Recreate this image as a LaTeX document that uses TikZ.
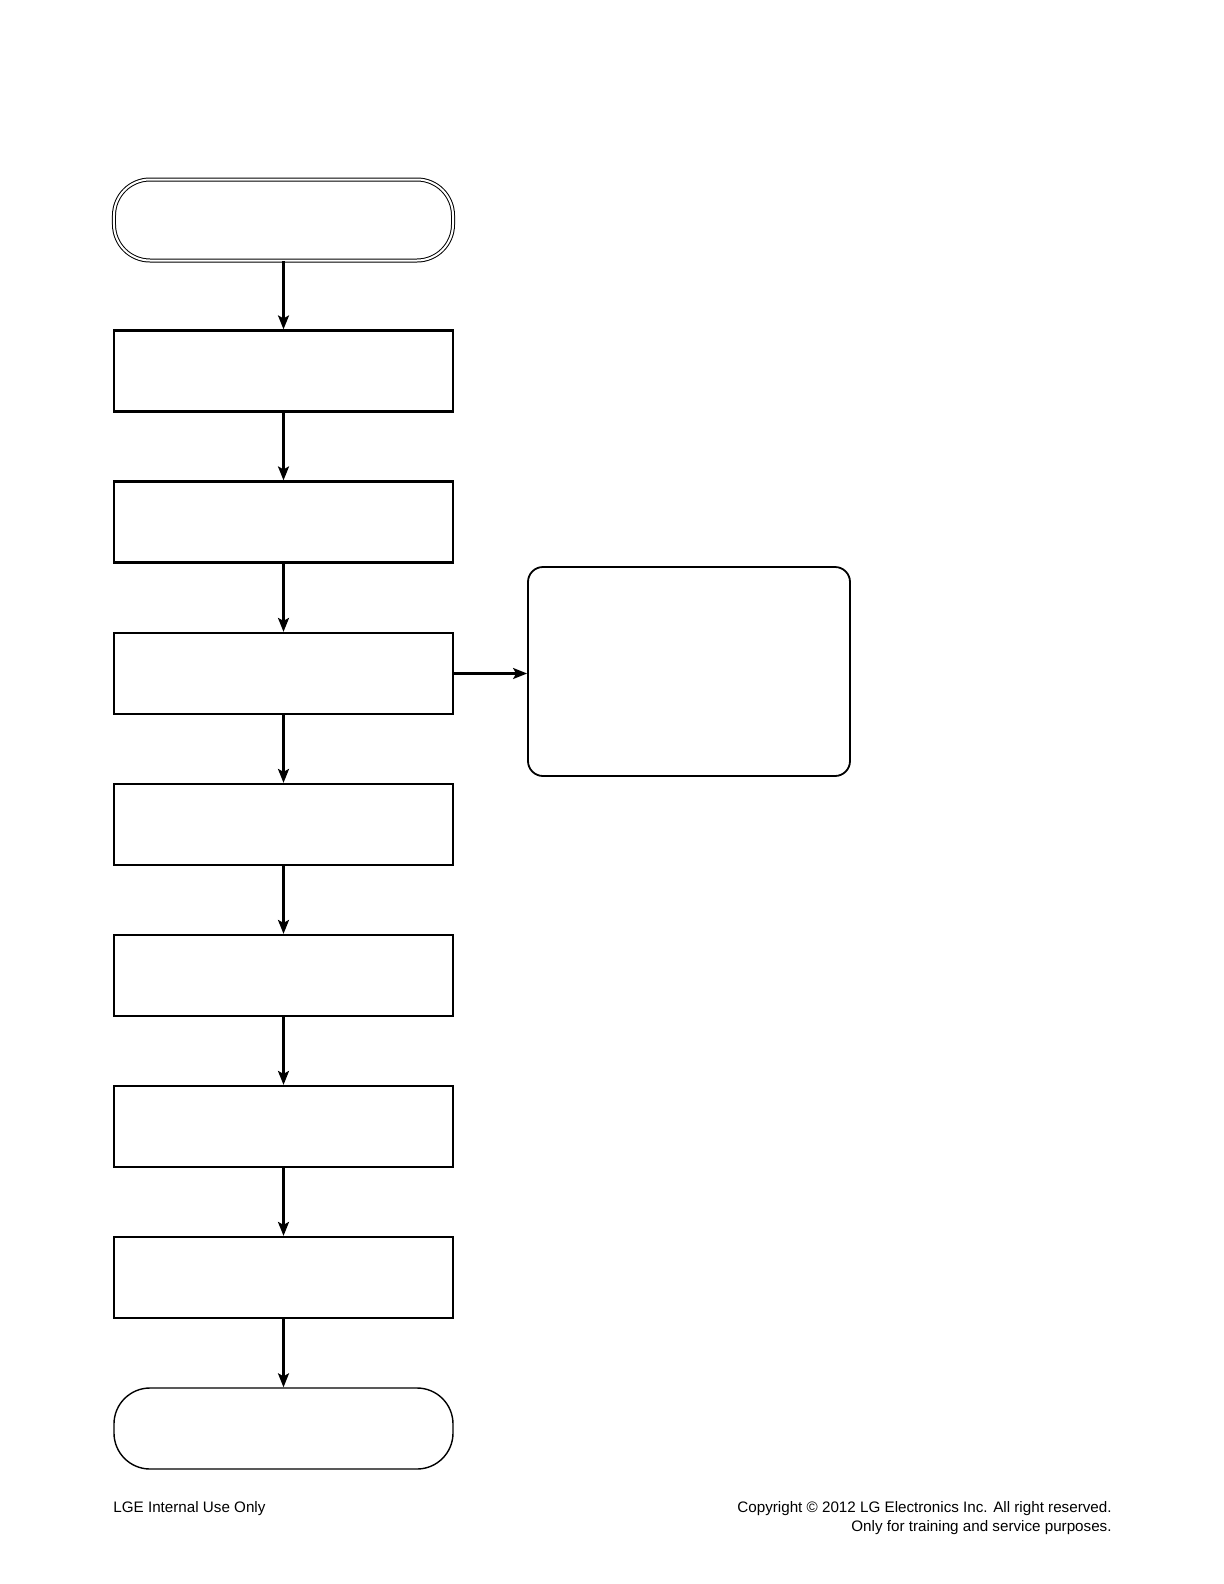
\documentclass[tikz,border=0pt]{standalone}
\usepackage{fontspec}
\setmainfont{Liberation Sans}
\usetikzlibrary{arrows.meta}

\tikzset{
	stepbox/.style={draw, line width=1.1bp, minimum width=169.5bp, minimum height=40.5bp},
	termbox/.style={draw, line width=0.7bp, rounded corners=18bp, minimum width=169.5bp, minimum height=40.5bp},
	notebox/.style={draw, line width=0.9bp, rounded corners=7.5bp, minimum width=161bp, minimum height=104.5bp},
	flow/.style={line width=1.1bp, -{Stealth[length=7bp, width=5.5bp, inset=1.5bp]}},
}

\begin{document}
\begin{tikzpicture}[x=0.5bp, y=-0.5bp, font=\fontsize{7.6bp}{9.5bp}\selectfont]
		\useasboundingbox (0,0) rectangle (1224,1584);

		\node[termbox, double, line width=0.5bp, double distance=1bp] (start) at (283.5, 220) {};
		\node[stepbox] (s1) at (283.5, 371) {};
		\node[stepbox] (s2) at (283.5, 522) {};
		\node[stepbox] (s3) at (283.5, 673.5) {};
		\node[stepbox] (s4) at (283.5, 824.5) {};
		\node[stepbox] (s5) at (283.5, 975.5) {};
		\node[stepbox] (s6) at (283.5, 1126.5) {};
		\node[stepbox] (s7) at (283.5, 1277.5) {};
		\node[termbox] (stop) at (283.5, 1428.5) {};
		\node[notebox] (note) at (689, 671.5) {};

		\path (start) edge[flow] (s1)
		(s1) edge[flow] (s2)
		(s2) edge[flow] (s3)
		(s3) edge[flow] (s4)
		(s4) edge[flow] (s5)
		(s5) edge[flow] (s6)
		(s6) edge[flow] (s7)
		(s7) edge[flow] (stop)
		(s3.east) edge[flow] (s3.east -| note.west);

		\node[anchor=base west, inner sep=0pt] (lge) at (113, 1512) {LGE Internal Use Only};
		\node[anchor=base east, inner sep=0pt] (copy) at (1112, 1512) {Copyright © 2012 LG Electronics Inc. All right reserved.};
		\node[anchor=base east, inner sep=0pt] (only) at (1112, 1531) {Only for training and service purposes.};
	\end{tikzpicture}
\end{document}
